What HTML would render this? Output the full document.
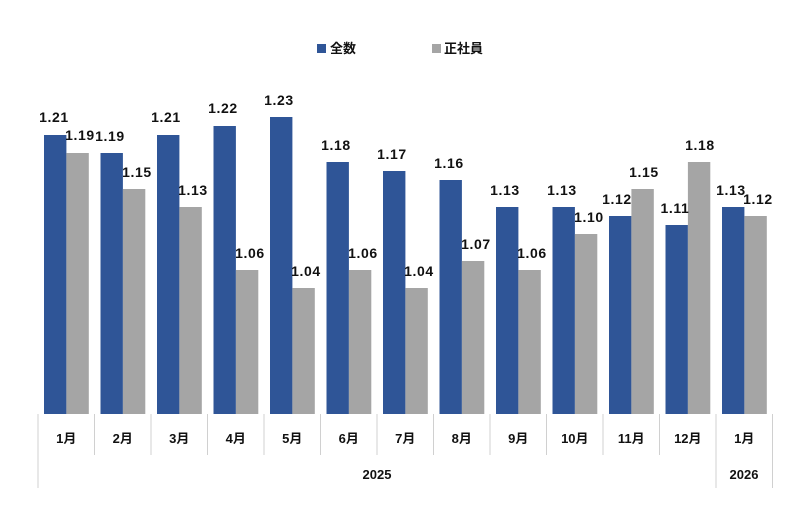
<!DOCTYPE html>
<html><head><meta charset="utf-8"><style>
body{margin:0;background:#fff;}
svg text{font-family:"Liberation Sans","DejaVu Sans","Noto Sans CJK JP",sans-serif;font-weight:bold;fill:#111;font-size:13px;}
.v text{font-size:14px;letter-spacing:0.6px;}
</style></head><body>
<svg width="800" height="526" xmlns="http://www.w3.org/2000/svg">
<rect x="317" y="44" width="9" height="9" fill="#2f5597"/>
<text x="330" y="53">全数</text>
<rect x="432" y="44" width="9" height="9" fill="#a5a5a5"/>
<text x="444" y="53">正社員</text>
<g fill="#2f5597">
<rect x="44" y="135" width="22.4" height="279"/>
<rect x="100.5" y="153" width="22.4" height="261"/>
<rect x="157" y="135" width="22.4" height="279"/>
<rect x="213.5" y="126" width="22.4" height="288"/>
<rect x="270" y="117" width="22.4" height="297"/>
<rect x="326.5" y="162" width="22.4" height="252"/>
<rect x="383" y="171" width="22.4" height="243"/>
<rect x="439.5" y="180" width="22.4" height="234"/>
<rect x="496" y="207" width="22.4" height="207"/>
<rect x="552.5" y="207" width="22.4" height="207"/>
<rect x="609" y="216" width="22.4" height="198"/>
<rect x="665.5" y="225" width="22.4" height="189"/>
<rect x="722" y="207" width="22.4" height="207"/>
</g>
<g fill="#a5a5a5">
<rect x="66.4" y="153" width="22.4" height="261"/>
<rect x="122.9" y="189" width="22.4" height="225"/>
<rect x="179.4" y="207" width="22.4" height="207"/>
<rect x="235.9" y="270" width="22.4" height="144"/>
<rect x="292.4" y="288" width="22.4" height="126"/>
<rect x="348.9" y="270" width="22.4" height="144"/>
<rect x="405.4" y="288" width="22.4" height="126"/>
<rect x="461.9" y="261" width="22.4" height="153"/>
<rect x="518.4" y="270" width="22.4" height="144"/>
<rect x="574.9" y="234" width="22.4" height="180"/>
<rect x="631.4" y="189" width="22.4" height="225"/>
<rect x="687.9" y="162" width="22.4" height="252"/>
<rect x="744.4" y="216" width="22.4" height="198"/>
</g>
<g text-anchor="middle" class="v">
<text x="54" y="122">1.21</text><text x="80" y="140">1.19</text>
<text x="110" y="141">1.19</text><text x="137" y="177">1.15</text>
<text x="166" y="122">1.21</text><text x="193" y="195">1.13</text>
<text x="223" y="113">1.22</text><text x="250" y="258">1.06</text>
<text x="279" y="105">1.23</text><text x="306" y="276">1.04</text>
<text x="336" y="150">1.18</text><text x="363" y="258">1.06</text>
<text x="392" y="159">1.17</text><text x="419" y="276">1.04</text>
<text x="449" y="168">1.16</text><text x="476" y="249">1.07</text>
<text x="505" y="195">1.13</text><text x="532" y="258">1.06</text>
<text x="562" y="195">1.13</text><text x="589" y="222">1.10</text>
<text x="617" y="204">1.12</text><text x="644" y="177">1.15</text>
<text x="675" y="213">1.11</text><text x="700" y="150">1.18</text>
<text x="731" y="195">1.13</text><text x="758" y="204">1.12</text>
</g>
<g text-anchor="middle">
<text x="66.3" y="443">1月</text><text x="122.8" y="443">2月</text><text x="179.3" y="443">3月</text>
<text x="235.8" y="443">4月</text><text x="292.3" y="443">5月</text><text x="348.8" y="443">6月</text>
<text x="405.3" y="443">7月</text><text x="461.8" y="443">8月</text><text x="518.3" y="443">9月</text>
<text x="574.8" y="443">10月</text><text x="631.3" y="443">11月</text><text x="687.8" y="443">12月</text>
<text x="744.3" y="443">1月</text>
<text x="377" y="479">2025</text><text x="744" y="479">2026</text>
</g>
<g stroke="#d0d0d0" stroke-width="1">
<line x1="38" y1="414" x2="38" y2="488"/>
<line x1="94.5" y1="414" x2="94.5" y2="455"/>
<line x1="151" y1="414" x2="151" y2="455"/>
<line x1="207.5" y1="414" x2="207.5" y2="455"/>
<line x1="264" y1="414" x2="264" y2="455"/>
<line x1="320.5" y1="414" x2="320.5" y2="455"/>
<line x1="377" y1="414" x2="377" y2="455"/>
<line x1="433.5" y1="414" x2="433.5" y2="455"/>
<line x1="490" y1="414" x2="490" y2="455"/>
<line x1="546.5" y1="414" x2="546.5" y2="455"/>
<line x1="603" y1="414" x2="603" y2="455"/>
<line x1="659.5" y1="414" x2="659.5" y2="455"/>
<line x1="716" y1="414" x2="716" y2="488"/>
<line x1="772.5" y1="414" x2="772.5" y2="488"/>
</g>
</svg>
</body></html>
